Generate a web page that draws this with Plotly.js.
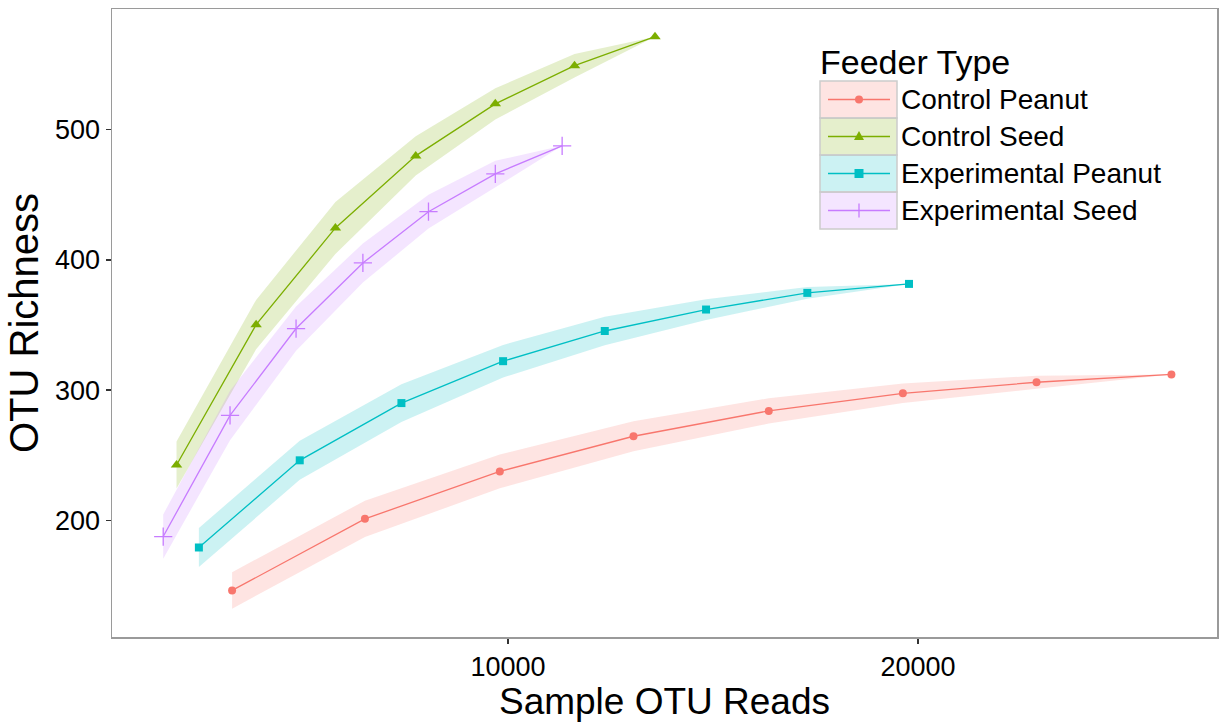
<!DOCTYPE html>
<html><head><meta charset="utf-8">
<script src="https://cdn.plot.ly/plotly-3.0.1.min.js"></script>
<style>html,body{margin:0;padding:0;background:#fff}#chart{width:1222px;height:722px}</style>
</head><body><div id="chart"></div>
<script>
// ---- data ----
const seriesNames = ['Control Peanut', 'Control Seed', 'Experimental Peanut', 'Experimental Seed'];
const seriesColors = ['#F8766D', '#7CAE00', '#00BFC4', '#C77CFF'];
const ribbonColors = ['rgba(248,118,109,0.2)', 'rgba(124,174,0,0.2)', 'rgba(0,191,196,0.2)', 'rgba(199,124,255,0.2)'];
const markerSymbols = ['circle', 'triangle-up', 'square', 'cross-thin'];

const cpReads    = [3270, 6510, 9800, 13060, 16360, 19630, 22890, 26180];
const cpRichness = [146, 201, 237.5, 264.5, 284, 297.5, 306, 312];
const cpLower    = [132, 187, 224.5, 253, 274.3, 290, 301, 312];
const cpUpper    = [160, 215, 250.5, 276, 293.7, 305, 311, 312];

const csReads    = [1915, 3856, 5790, 7749, 9690, 11622, 13585];
const csRichness = [242.4, 350.3, 424.6, 480, 520, 549.3, 571.6];
const csLower    = [224.4, 331.3, 404.6, 465, 508, 540.3, 571.6];
const csUpper    = [260.4, 369.3, 444.6, 495, 532, 558.3, 571.6];

const epReads    = [2460, 4920, 7400, 9880, 12360, 14830, 17300, 19780];
const epRichness = [179, 246, 290, 322.2, 345.4, 361.9, 374.7, 381.6];
const epLower    = [164, 231, 275.5, 309.7, 334.4, 353.9, 370.2, 381.6];
const epUpper    = [194, 261, 304.5, 334.7, 356.4, 369.9, 379.2, 381.6];

const esReads    = [1590, 3220, 4830, 6460, 8060, 9690, 11320];
const esRichness = [187.4, 280.5, 347.3, 397.7, 437.1, 466.2, 487.7];
const esLower    = [170.4, 261.5, 330.3, 382.7, 424.1, 456.2, 487.7];
const esUpper    = [204.4, 299.5, 364.3, 412.7, 450.1, 476.2, 487.7];

const xTickVals = [10000, 20000];
const yTickVals = [200, 300, 400, 500];

const legendTitle = 'Feeder Type';
const xTitle = 'Sample OTU Reads';
const yTitle = 'OTU Richness';

// ---- build ----
const reads = [cpReads, csReads, epReads, esReads];
const rich = [cpRichness, csRichness, epRichness, esRichness];
const lows = [cpLower, csLower, epLower, esLower];
const highs = [cpUpper, csUpper, epUpper, esUpper];

const traces = [];
for (let i = 0; i < 4; i++) {
  traces.push({
    type: 'scatter', mode: 'lines',
    x: reads[i].concat(reads[i].slice().reverse()),
    y: highs[i].concat(lows[i].slice().reverse()),
    fill: 'toself', fillcolor: ribbonColors[i],
    line: {width: 0, color: ribbonColors[i]},
    hoverinfo: 'skip', showlegend: false
  });
}
const markerSizes = [8, 10, 8, 13];
for (let i = 0; i < 4; i++) {
  traces.push({
    type: 'scatter', mode: 'lines+markers', name: seriesNames[i],
    x: reads[i], y: rich[i],
    line: {color: seriesColors[i], width: 1.3},
    marker: {symbol: markerSymbols[i], size: markerSizes[i], color: seriesColors[i],
             line: {color: seriesColors[i], width: i === 3 ? 1.3 : 0}},
    showlegend: false
  });
}

// custom ggplot-like legend (positions in px, converted to paper coords)
const M = {l: 112, r: 5, t: 9, b: 85};
const W = 1222, H = 722;
const pw = W - M.l - M.r, ph = H - M.t - M.b;
const PX = px => (px - M.l) / pw;
const PY = py => (H - M.b - py) / ph;

const font = 'Liberation Sans, Arial, sans-serif';
const shapes = [], annotations = [];
const boxL = 820, boxR = 897, rowTop = 81, rowH = 37, mx = 859;
annotations.push({xref: 'paper', yref: 'paper', x: PX(818), y: PY(62), xanchor: 'left', yanchor: 'middle',
  text: legendTitle, showarrow: false, font: {family: font, size: 34, color: '#000'}});
for (let i = 0; i < 4; i++) {
  const top = rowTop + i * rowH, cy = top + rowH / 2;
  shapes.push({type: 'rect', xref: 'paper', yref: 'paper', x0: PX(boxL), x1: PX(boxR), y0: PY(top), y1: PY(top + rowH),
    fillcolor: ribbonColors[i], line: {color: '#CCCCCC', width: 1.5}, layer: 'above'});
  shapes.push({type: 'line', xref: 'paper', yref: 'paper', x0: PX(828), x1: PX(890), y0: PY(cy), y1: PY(cy),
    line: {color: seriesColors[i], width: 1.3}, layer: 'above'});
  const c = seriesColors[i];
  if (i === 0) {
    shapes.push({type: 'circle', xref: 'paper', yref: 'paper', x0: PX(mx - 4), x1: PX(mx + 4), y0: PY(cy - 4), y1: PY(cy + 4),
      fillcolor: c, line: {color: c, width: 0}, layer: 'above'});
  } else if (i === 1) {
    shapes.push({type: 'path', xref: 'paper', yref: 'paper',
      path: `M${PX(mx)},${PY(cy - 5.5)} L${PX(mx + 5)},${PY(cy + 3.5)} L${PX(mx - 5)},${PY(cy + 3.5)} Z`,
      fillcolor: c, line: {color: c, width: 0}, layer: 'above'});
  } else if (i === 2) {
    shapes.push({type: 'rect', xref: 'paper', yref: 'paper', x0: PX(mx - 4.5), x1: PX(mx + 4.5), y0: PY(cy - 4.5), y1: PY(cy + 4.5),
      fillcolor: c, line: {color: c, width: 0}, layer: 'above'});
  } else {
    shapes.push({type: 'line', xref: 'paper', yref: 'paper', x0: PX(mx), x1: PX(mx), y0: PY(cy - 7), y1: PY(cy + 7),
      line: {color: c, width: 1.3}, layer: 'above'});
  }
  annotations.push({xref: 'paper', yref: 'paper', x: PX(899), y: PY(cy), xanchor: 'left', yanchor: 'middle',
    text: seriesNames[i], showarrow: false, font: {family: font, size: 28, color: '#000'}});
}

const layout = {
  width: W, height: H,
  margin: M,
  paper_bgcolor: '#fff', plot_bgcolor: '#fff',
  showlegend: false,
  font: {family: font, color: '#000'},
  xaxis: {
    range: [341, 27292], tickvals: xTickVals, ticktext: xTickVals.map(String),
    showgrid: false, zeroline: false, showline: true, mirror: true, linecolor: '#9A9A9A', linewidth: 1.5,
    ticks: 'outside', ticklen: 5, tickwidth: 1.2, tickcolor: '#333',
    tickfont: {family: font, size: 27, color: '#000'},
    title: {text: xTitle, font: {family: font, size: 37, color: '#000'}, standoff: 8}
  },
  yaxis: {
    range: [110.2, 592.9], tickvals: yTickVals, ticktext: yTickVals.map(String),
    showgrid: false, zeroline: false, showline: true, mirror: true, linecolor: '#9A9A9A', linewidth: 1.5,
    ticks: 'outside', ticklen: 5, tickwidth: 1.2, tickcolor: '#333',
    tickfont: {family: font, size: 27, color: '#000'},
    title: {text: yTitle, font: {family: font, size: 40, color: '#000'}, standoff: 4}
  },
  shapes: shapes,
  annotations: annotations
};

Plotly.newPlot('chart', traces, layout, {displayModeBar: false, staticPlot: true});
</script>
</body></html>
